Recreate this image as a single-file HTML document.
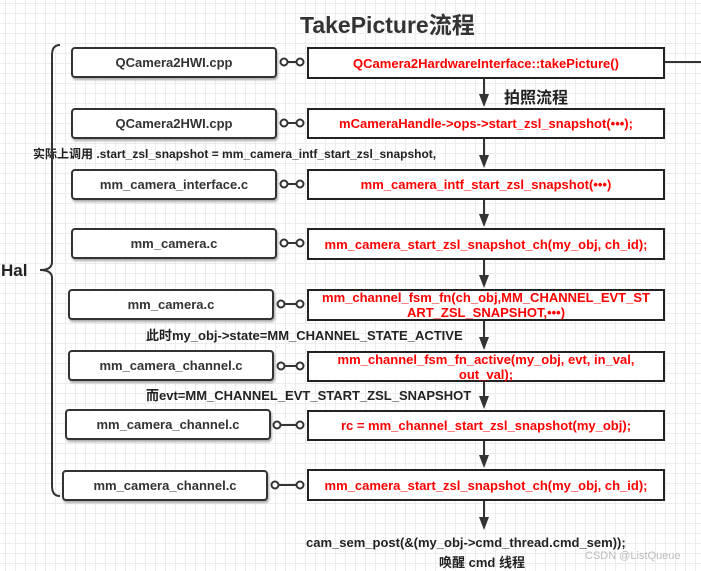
<!DOCTYPE html>
<html><head><meta charset="utf-8"><style>
body{margin:0;width:701px;height:570px;overflow:hidden;background:#fff;
background-image:linear-gradient(#ececec 1px,transparent 1px),linear-gradient(90deg,#ececec 1px,transparent 1px);background-size:10px 10px;background-position:5px 3px;
font-family:"Liberation Sans","Noto Sans CJK SC",sans-serif;position:relative}
.l{position:absolute;border:2px solid #333;border-radius:4px;background:#fff;box-shadow:1px 2px 2px #aaa;box-sizing:border-box;font-size:13px;font-weight:bold;color:#333;display:flex;align-items:center;justify-content:center}
.r{position:absolute;left:307px;width:358px;border:2px solid #222;background:#fff;box-sizing:border-box;font-size:13px;font-weight:bold;color:#f00;display:flex;align-items:center;justify-content:center;text-align:center;line-height:15px}
.t{position:absolute;font-size:13px;font-weight:bold;color:#222;white-space:nowrap}
</style></head><body>
<div class="t" style="left:300px;top:6px;font-size:23px;color:#333">TakePicture流程</div>
<div class="l" style="left:71px;top:47px;width:206px;height:31px">QCamera2HWI.cpp</div>
<div class="r" style="top:47px;height:32px">QCamera2HardwareInterface::takePicture()</div>
<div class="t" style="left:504px;top:84px;font-size:16px">拍照流程</div>
<div class="l" style="left:71px;top:108px;width:206px;height:31px">QCamera2HWI.cpp</div>
<div class="r" style="top:108px;height:31px">mCameraHandle-&gt;ops-&gt;start_zsl_snapshot(•••);</div>
<div class="t" style="left:33px;top:145px;font-size:12px">实际上调用 .start_zsl_snapshot = mm_camera_intf_start_zsl_snapshot,</div>
<div class="l" style="left:71px;top:169px;width:206px;height:31px">mm_camera_interface.c</div>
<div class="r" style="top:169px;height:31px">mm_camera_intf_start_zsl_snapshot(•••)</div>
<div class="l" style="left:71px;top:228px;width:206px;height:31px">mm_camera.c</div>
<div class="r" style="top:228px;height:32px">mm_camera_start_zsl_snapshot_ch(my_obj, ch_id);</div>
<div class="l" style="left:68px;top:289px;width:206px;height:31px">mm_camera.c</div>
<div class="r" style="top:289px;height:32px">mm_channel_fsm_fn(ch_obj,MM_CHANNEL_EVT_ST ART_ZSL_SNAPSHOT,•••)</div>
<div class="t" style="left:146px;top:325px">此时my_obj-&gt;state=MM_CHANNEL_STATE_ACTIVE</div>
<div class="l" style="left:68px;top:350px;width:206px;height:31px">mm_camera_channel.c</div>
<div class="r" style="top:351px;height:31px">mm_channel_fsm_fn_active(my_obj, evt, in_val, out_val);</div>
<div class="t" style="left:146px;top:385px">而evt=MM_CHANNEL_EVT_START_ZSL_SNAPSHOT</div>
<div class="l" style="left:65px;top:409px;width:206px;height:31px">mm_camera_channel.c</div>
<div class="r" style="top:410px;height:31px">rc = mm_channel_start_zsl_snapshot(my_obj);</div>
<div class="l" style="left:62px;top:470px;width:206px;height:31px">mm_camera_channel.c</div>
<div class="r" style="top:469px;height:32px">mm_camera_start_zsl_snapshot_ch(my_obj, ch_id);</div>
<div class="t" style="left:306px;top:535px">cam_sem_post(&amp;(my_obj-&gt;cmd_thread.cmd_sem));</div>
<div class="t" style="left:439px;top:552px">唤醒 cmd 线程</div>
<div class="t" style="left:585px;top:550px;font-size:11px;font-weight:normal;color:#bbb">CSDN @ListQueue</div>
<div class="t" style="left:1px;top:261px;font-size:17px">Hal</div>
<svg width="701" height="570" style="position:absolute;left:0;top:0" fill="none" stroke="#333" stroke-width="2">
<path d="M60 45 Q52 45 52 55 L52 262 Q52 270 40 270 Q52 270 52 278 L52 486 Q52 496 60 496"/>
<line x1="665" y1="62" x2="701" y2="62"/>
<g fill="#fff">
<circle cx="284" cy="62" r="3.5"/><circle cx="300" cy="62" r="3.5"/><line x1="287" y1="62" x2="297" y2="62"/>
<circle cx="284" cy="123" r="3.5"/><circle cx="300" cy="123" r="3.5"/><line x1="287" y1="123" x2="297" y2="123"/>
<circle cx="284" cy="184" r="3.5"/><circle cx="300" cy="184" r="3.5"/><line x1="287" y1="184" x2="297" y2="184"/>
<circle cx="284" cy="243" r="3.5"/><circle cx="300" cy="243" r="3.5"/><line x1="287" y1="243" x2="297" y2="243"/>
<circle cx="281" cy="304" r="3.5"/><circle cx="300" cy="304" r="3.5"/><line x1="284" y1="304" x2="297" y2="304"/>
<circle cx="281" cy="366" r="3.5"/><circle cx="300" cy="366" r="3.5"/><line x1="284" y1="366" x2="297" y2="366"/>
<circle cx="277" cy="425" r="3.5"/><circle cx="300" cy="425" r="3.5"/><line x1="280" y1="425" x2="297" y2="425"/>
<circle cx="275" cy="485" r="3.5"/><circle cx="300" cy="485" r="3.5"/><line x1="278" y1="485" x2="297" y2="485"/>
</g>
<g>
<line x1="484" y1="79" x2="484" y2="100"/><line x1="484" y1="139" x2="484" y2="161"/><line x1="484" y1="200" x2="484" y2="220"/>
<line x1="484" y1="260" x2="484" y2="281"/><line x1="484" y1="321" x2="484" y2="343"/><line x1="484" y1="382" x2="484" y2="402"/>
<line x1="484" y1="441" x2="484" y2="461"/><line x1="484" y1="501" x2="484" y2="522"/>
</g>
<g fill="#333" stroke="none">
<path d="M479 94 L489 94 L484 107Z"/><path d="M479 155 L489 155 L484 168Z"/><path d="M479 214 L489 214 L484 227Z"/>
<path d="M479 275 L489 275 L484 288Z"/><path d="M479 337 L489 337 L484 350Z"/><path d="M479 396 L489 396 L484 409Z"/>
<path d="M479 455 L489 455 L484 468Z"/><path d="M479 517 L489 517 L484 530Z"/>
</g>
</svg>
</body></html>
